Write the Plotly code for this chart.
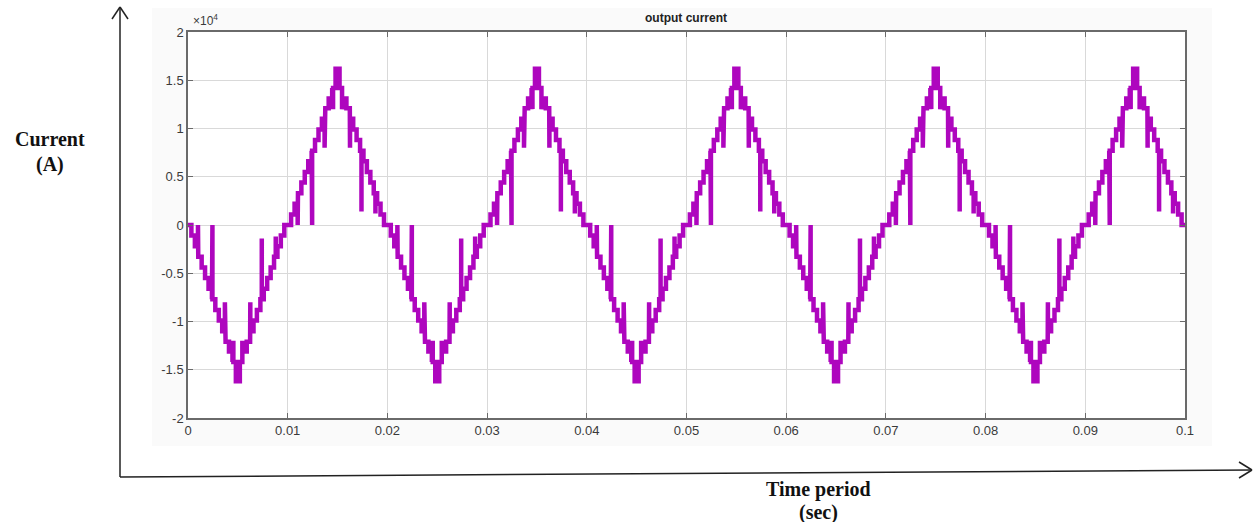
import plotly.graph_objects as go

# ---------------- data ----------------
# one half-cycle of the staircase current (offset in ms, magnitude in A)
HALF_CYCLE_MS = 10.0
HALF_SIGNS = [-1, 1, -1, 1, -1, 1, -1, 1, -1, 1]
STEP_T_MS = [0.00, 0.34, 0.69, 1.03, 1.37, 1.71, 2.06, 2.40, 2.74, 3.09, 3.43, 3.77, 4.11, 4.46,
             4.80,
             5.20, 5.54, 5.89, 6.23, 6.57, 6.91, 7.26, 7.60, 7.94, 8.29, 8.63, 8.97, 9.31, 9.66]
STEP_LEVEL_A = [0, 1100, 2200, 3300, 4400, 5500, 6600, 7700, 8800, 9900, 11000, 12100, 13100, 14200,
                16200,
                14200, 13100, 12100, 11000, 9900, 8800, 7700, 6600, 5500, 4400, 3300, 2200, 1100, 0]
# narrow switching spikes toward zero inside each half-cycle
SPIKE_T_MS = [1.00, 2.45, 3.70, 4.55, 5.45, 6.25, 7.40, 8.80]
SPIKE_TO_A = [0, 0, 8000, 12000, 12000, 8000, 1400, 1200]

X_TICKS = [0, 0.01, 0.02, 0.03, 0.04, 0.05, 0.06, 0.07, 0.08, 0.09, 0.1]
X_TICK_TEXT = ["0", "0.01", "0.02", "0.03", "0.04", "0.05", "0.06", "0.07", "0.08", "0.09", "0.1"]
Y_TICKS = [-20000, -15000, -10000, -5000, 0, 5000, 10000, 15000, 20000]
Y_TICK_TEXT = ["-2", "-1.5", "-1", "-0.5", "0", "0.5", "1", "1.5", "2"]

# ---------------- build the waveform ----------------
t_all, i_all = [], []
for k, sgn in enumerate(HALF_SIGNS):
    t0 = k * HALF_CYCLE_MS
    events = [(t, 0, v) for t, v in zip(STEP_T_MS, STEP_LEVEL_A)]
    events += [(t, 1, v) for t, v in zip(SPIKE_T_MS, SPIKE_TO_A)]
    events.sort(key=lambda e: (e[0], e[1]))
    cur = 0
    for t, kind, v in events:
        T = (t0 + t) / 1000.0
        if kind == 0:
            t_all += [T, T]
            i_all += [sgn * cur, sgn * v]
            cur = v
        else:
            t_all += [T, T, T]
            i_all += [sgn * cur, sgn * v, sgn * cur]
    t_all.append((t0 + HALF_CYCLE_MS) / 1000.0)
    i_all.append(sgn * cur)

# ---------------- layout geometry ----------------
W, H = 1257, 522
PL, PR, PT, PB = 188, 1185, 32, 418


def px(x):
    return (x - PL) / (PR - PL)


def py(y):
    return (PB - y) / (PB - PT)


fig = go.Figure()
fig.add_trace(go.Scatter(x=t_all, y=i_all, mode="lines",
                         line=dict(color="#AE06BE", width=4.5),
                         hoverinfo="skip", showlegend=False))

axis_common = dict(showline=True, linecolor="#6a6a6a", linewidth=1.5, mirror="allticks",
                   ticks="inside", ticklen=5, tickcolor="#6a6a6a",
                   showgrid=True, gridcolor="#d9d9d9", gridwidth=1, zeroline=False,
                   tickfont=dict(family="Liberation Sans, Arial", size=13, color="#3a3a3a"))

fig.update_xaxes(range=[0, 0.1], tickvals=X_TICKS, ticktext=X_TICK_TEXT, **axis_common)
fig.update_yaxes(range=[-20000, 20000], tickvals=Y_TICKS, ticktext=Y_TICK_TEXT, **axis_common)

shapes = [
    # MATLAB figure background
    dict(type="rect", xref="paper", yref="paper", x0=px(152), x1=px(1212), y0=py(446), y1=py(8),
         fillcolor="#fafafa", line=dict(width=0), layer="below"),
    dict(type="rect", xref="paper", yref="paper", x0=0, x1=1, y0=0, y1=1,
         fillcolor="white", line=dict(width=0), layer="below"),
    # hand-drawn axes arrows
    dict(type="line", xref="paper", yref="paper", x0=px(120), y0=py(477), x1=px(120), y1=py(7),
         line=dict(color="#222", width=1.5)),
    dict(type="line", xref="paper", yref="paper", x0=px(112), y0=py(19), x1=px(120), y1=py(7),
         line=dict(color="#222", width=1.5)),
    dict(type="line", xref="paper", yref="paper", x0=px(128), y0=py(19), x1=px(120), y1=py(7),
         line=dict(color="#222", width=1.5)),
    dict(type="line", xref="paper", yref="paper", x0=px(120), y0=py(477), x1=px(1252), y1=py(470),
         line=dict(color="#222", width=1.5)),
    dict(type="line", xref="paper", yref="paper", x0=px(1239), y0=py(462), x1=px(1252), y1=py(470),
         line=dict(color="#222", width=1.5)),
    dict(type="line", xref="paper", yref="paper", x0=px(1239), y0=py(478), x1=px(1252), y1=py(470),
         line=dict(color="#222", width=1.5)),
]

serif = dict(family="Liberation Serif, Times New Roman", size=20, color="#111")
annotations = [
    dict(text="<b>output current</b>", xref="paper", yref="paper", x=px(686), y=py(18),
         showarrow=False, font=dict(family="Liberation Sans, Arial", size=12, color="#222"),
         xanchor="center", yanchor="middle"),
    dict(text="\u00d710<sup>4</sup>", xref="paper", yref="paper", x=px(191), y=py(20),
         showarrow=False, font=dict(family="Liberation Sans, Arial", size=12, color="#3a3a3a"),
         xanchor="left", yanchor="middle"),
    dict(text="<b>Current</b>", xref="paper", yref="paper", x=px(50), y=py(139),
         showarrow=False, font=serif, xanchor="center", yanchor="middle", borderpad=0),
    dict(text="<b>(A)</b>", xref="paper", yref="paper", x=px(50), y=py(164),
         showarrow=False, font=serif, xanchor="center", yanchor="middle", borderpad=0),
    dict(text="<b>Time period</b>", xref="paper", yref="paper", x=px(818), y=py(489),
         showarrow=False, font=serif, xanchor="center", yanchor="middle", borderpad=0),
    dict(text="<b>(sec)</b>", xref="paper", yref="paper", x=px(818), y=py(512),
         showarrow=False, font=serif, xanchor="center", yanchor="middle", borderpad=0),
]

fig.update_layout(width=W, height=H, margin=dict(l=PL, r=W - PR, t=PT, b=H - PB, pad=0),
                  paper_bgcolor="white", plot_bgcolor="white",
                  shapes=shapes, annotations=annotations, showlegend=False)

fig.write_html("out.html")
